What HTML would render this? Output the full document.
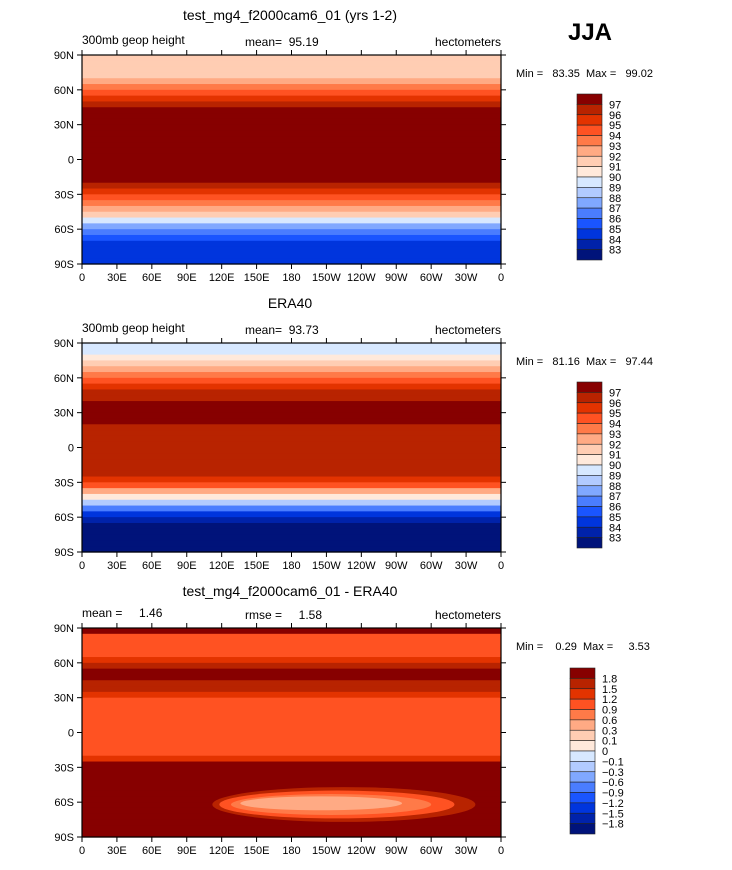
<!DOCTYPE html>
<html><head><meta charset="utf-8">
<style>
body{margin:0;background:#fff;width:732px;height:865px;overflow:hidden}
svg text{font-family:"Liberation Sans",sans-serif;fill:#000;white-space:pre}
</style></head>
<body>
<svg id="fig" width="732" height="865" viewBox="0 0 732 865" xmlns="http://www.w3.org/2000/svg">
<text x="290" y="20" font-size="14" text-anchor="middle">test_mg4_f2000cam6_01 (yrs 1-2)</text>
<text x="590" y="40" font-size="24" font-weight="bold" text-anchor="middle">JJA</text>
<text x="290" y="308" font-size="14" text-anchor="middle">ERA40</text>
<text x="290" y="596" font-size="14" text-anchor="middle">test_mg4_f2000cam6_01 - ERA40</text>
</svg>
<script>
// Latitude bands (5-degree steps from 90N to 90S), values in hectometers
const latEdges = [90,85,80,75,70,65,60,55,50,45,40,35,30,25,20,15,10,5,0,-5,-10,-15,-20,-25,-30,-35,-40,-45,-50,-55,-60,-65,-70,-75,-80,-85,-90];
const modelVals = [91.5,91.5,91.5,91.5,92.5,93.5,94.5,95.5,96.5,97.5,97.5,97.5,97.5,97.5,97.5,97.5,97.5,97.5,97.5,97.5,97.5,97.5,96.5,95.5,94.5,93.5,92.5,91,89.5,87.5,86,85,84.5,84.5,84.5,84.5];
const obsVals = [89.5,89.5,90.5,91.5,92.5,93.5,94.5,95.5,96.5,96.5,97.5,97.5,97.5,97.5,96.5,96.5,96.5,96.5,96.5,96.5,96.5,96.5,96.5,95.5,94.5,92.5,90.5,88.5,86.5,84.5,83.5,82.5,82.5,82.5,82.5,82.5];
const diffVals = [2,1.0,1.0,1.0,1.0,1.3,1.6,1.9,1.9,1.6,1.6,1.3,1.0,1.0,1.0,1.0,1.0,1.0,1.0,1.0,1.0,1.0,1.3,1.9,2,2,2,2,2,2,2,2,2,2,2,2];
// Diff-panel regional anomaly patch (lon start, lon end, lat center, lat half-height, value)
const diffPatchLon = [[112,338],[118,320],[128,300],[136,275]];
const diffPatchLat = [[-62,15],[-62,12],[-62,9],[-61,6]];
const diffPatchVal = [1.6,1.0,0.7,0.4];
const fieldLevels = [83,84,85,86,87,88,89,90,91,92,93,94,95,96,97];
const diffLevels = [-1.8,-1.5,-1.2,-0.9,-0.6,-0.3,-0.1,0,0.1,0.3,0.6,0.9,1.2,1.5,1.8];
const fieldLabels = ["83","84","85","86","87","88","89","90","91","92","93","94","95","96","97"];
const diffLabels = ["\u22121.8","\u22121.5","\u22121.2","\u22120.9","\u22120.6","\u22120.3","\u22120.1","0","0.1","0.3","0.6","0.9","1.2","1.5","1.8"];
const latTicks = [90,60,30,0,-30,-60,-90];
const latTickLabels = ["90N","60N","30N","0","30S","60S","90S"];
const lonTicks = [0,30,60,90,120,150,180,210,240,270,300,330,360];
const lonTickLabels = ["0","30E","60E","90E","120E","150E","180","150W","120W","90W","60W","30W","0"];
const palette = ["#00137a","#0022aa","#0035dd","#1a55ff","#4a7dff","#80a8ff","#b2cbff","#d7e8ff","#ffe9db","#ffcdb3","#ffaa84","#ff7a48","#ff5222","#e33300","#b82300","#870000"];

const NS="http://www.w3.org/2000/svg";
const svg=document.getElementById('fig');
function mk(tag,attrs,parent){const e=document.createElementNS(NS,tag);for(const k in attrs)e.setAttribute(k,attrs[k]);(parent||svg).appendChild(e);return e;}
function levelIndex(v,levels){let i=0;while(i<levels.length&&v>=levels[i])i++;return i;}

const panels=[
 {top:55,name:'model',vals:modelVals,levels:fieldLevels,labels:fieldLabels,left:"300mb geop height",mid:"mean=  95.19",mm:"Min =   83.35  Max =   99.02",cbx:577,cby:94},
 {top:343,name:'obs',vals:obsVals,levels:fieldLevels,labels:fieldLabels,left:"300mb geop height",mid:"mean=  93.73",mm:"Min =   81.16  Max =   97.44",cbx:577,cby:382},
 {top:628,name:'diff',vals:diffVals,levels:diffLevels,labels:diffLabels,left:"mean =     1.46",mid:"rmse =     1.58",mm:"Min =    0.29  Max =     3.53",cbx:570,cby:668}
];
const X0=82,X1=501,H=209;
panels.forEach(p=>{
  const g=mk('g',{});
  
  
  const y=lat=>p.top+(90-lat)/180*H;
  const x=lon=>X0+lon/360*(X1-X0);
  for(let i=0;i<p.vals.length;i++){
    const r=mk('rect',{x:X0,y:y(latEdges[i]),width:X1-X0,height:y(latEdges[i+1])-y(latEdges[i])+0.6,fill:palette[levelIndex(p.vals[i],p.levels)]},g);
    
    
  }
  if(p.name==='diff'){
    diffPatchVal.forEach((v,k)=>{
      const [l0,l1]=diffPatchLon[k];const [lc,lh]=diffPatchLat[k];
      const e=mk('ellipse',{cx:(x(l0)+x(l1))/2,cy:y(lc),rx:(x(l1)-x(l0))/2,ry:y(lc-lh)-y(lc),fill:palette[levelIndex(v,p.levels)]},g);
      
      
    });
  }
  mk('rect',{x:X0,y:p.top,width:X1-X0,height:H,fill:'none',stroke:'#000','stroke-width':1.2},g);
  latTicks.forEach((t,i)=>{
    mk('line',{x1:X0-5,x2:X0,y1:y(t),y2:y(t),stroke:'#000'},g);
    mk('line',{x1:X1,x2:X1+5,y1:y(t),y2:y(t),stroke:'#000'},g);
    const tx=mk('text',{x:X0-8,y:y(t)+4,'font-size':11,'text-anchor':'end'},g);tx.textContent=latTickLabels[i];
    
    
  });
  lonTicks.forEach((t,i)=>{
    mk('line',{x1:x(t),x2:x(t),y1:p.top+H,y2:p.top+H+5,stroke:'#000'},g);
    mk('line',{x1:x(t),x2:x(t),y1:p.top-5,y2:p.top,stroke:'#000'},g);
    const tx=mk('text',{x:x(t),y:p.top+H+17,'font-size':11,'text-anchor':'middle'},g);tx.textContent=lonTickLabels[i];
    
    
  });
  let t=mk('text',{x:X0,y:p.top-11,'font-size':12},g);t.textContent=p.left;
  
  
  t=mk('text',{x:245,y:p.top-9,'font-size':12},g);t.textContent=p.mid;
  
  
  t=mk('text',{x:X1,y:p.top-9,'font-size':12,'text-anchor':'end'},g);t.textContent='hectometers';
  
  
  t=mk('text',{x:516,y:p.top+22,'font-size':11},g);t.textContent=p.mm;
  
  
  const cb=mk('g',{},g);
  
  
  const bh=166/16;
  for(let i=0;i<16;i++){
    const r=mk('rect',{x:p.cbx,y:p.cby+i*bh,width:25,height:bh,fill:palette[15-i],stroke:'#222','stroke-width':0.6},cb);
    
    
  }
  for(let i=0;i<15;i++){
    const lt=mk('text',{x:p.cbx+32,y:p.cby+(15-i)*bh+4,'font-size':11},cb);lt.textContent=p.labels[i];
    
    
  }
});
</script>
</body></html>
